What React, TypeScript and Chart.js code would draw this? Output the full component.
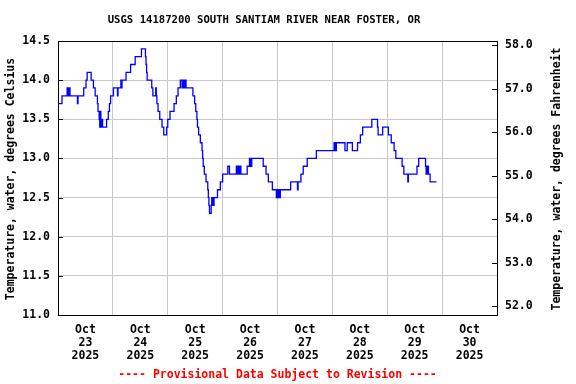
import { useEffect, useRef } from 'react';
import { Chart, registerables } from 'chart.js';

Chart.register(...registerables);

const TITLE = 'USGS 14187200 SOUTH SANTIAM RIVER NEAR FOSTER, OR';
const FOOTER = '---- Provisional Data Subject to Revision ----';
const LEFT_TITLE = 'Temperature, water, degrees Celsius';
const RIGHT_TITLE = 'Temperature, water, degrees Fahrenheit';

const MONTH = 'Oct';
const YEAR = '2025';
const DAYS = ['23', '24', '25', '26', '27', '28', '29', '30'];

const C_TICKS = [11.0, 11.5, 12.0, 12.5, 13.0, 13.5, 14.0, 14.5];
const F_TICKS = [52, 53, 54, 55, 56, 57, 58];

// hours since Oct 23 2025 00:00, and water temperature (deg C) from that time on
const HOURS = [
  0, 1.75, 4.0, 4.25, 4.5, 4.75, 5.0, 5.25, 8.5, 8.75, 11.25, 12.25, 12.75, 14.5, 15.5, 16.25,
  17.25, 17.5, 18.0, 18.25, 18.5, 18.75, 19.0, 19.25, 19.5, 21.25, 22.0, 22.5, 23.0, 24.25,
  26.0, 26.25, 27.5, 27.75, 28.0, 29.75, 31.75, 33.75, 36.5, 38.25, 38.5, 38.75, 39.0, 41.0,
  41.5, 42.75, 43.0, 43.25, 43.75, 44.5, 45.5, 46.25, 47.5, 48.0, 49.0, 50.75, 51.75, 52.5,
  53.5, 54.25, 54.5, 54.75, 55.0, 55.5, 55.75, 56.0, 59.0, 59.75, 60.25, 60.75, 61.0, 61.5,
  62.25, 63.0, 63.25, 63.5, 64.0, 64.75, 65.5, 65.75, 66.0, 66.25, 67.0, 67.25, 67.5, 67.75,
  68.0, 68.25, 69.75, 71.0, 72.0, 74.25, 75.0, 78.0, 78.25, 78.5, 78.75, 79.25, 79.5, 79.75,
  80.0, 82.75, 83.75, 84.0, 84.25, 84.5, 84.75, 89.75, 91.0, 92.0, 93.75, 95.5, 95.75, 96.0,
  96.25, 96.5, 96.75, 97.0, 97.25, 101.75, 104.75, 105.0, 106.25, 107.25, 109.0, 113.0,
  120.75, 121.0, 121.25, 121.5, 121.75, 125.5, 126.5, 128.75, 131.0, 132.25, 133.25, 137.25,
  139.75, 140.0, 142.0, 144.5, 145.75, 147.0, 147.75, 150.5, 151.25, 153.0, 153.25, 157.0,
  157.75, 160.75, 161.0, 161.25, 161.5, 161.75, 162.0, 162.75, 165.5,
];
const TEMPS_C = [
  13.7, 13.8, 13.9, 13.8, 13.9, 13.8, 13.9, 13.8, 13.7, 13.8, 13.9, 14.0, 14.1, 14.0, 13.9, 13.8,
  13.7, 13.6, 13.5, 13.4, 13.6, 13.5, 13.4, 13.5, 13.4, 13.5, 13.6, 13.7, 13.8, 13.9,
  13.8, 13.9, 14.0, 13.9, 14.0, 14.1, 14.2, 14.3, 14.4, 14.3, 14.2, 14.1, 14.0, 13.9,
  13.8, 13.9, 13.8, 13.7, 13.6, 13.5, 13.4, 13.3, 13.4, 13.5, 13.6, 13.7, 13.8, 13.9,
  14.0, 13.9, 14.0, 13.9, 14.0, 13.9, 14.0, 13.9, 13.8, 13.7, 13.6, 13.5, 13.4, 13.3,
  13.2, 13.1, 13.0, 12.9, 12.8, 12.7, 12.6, 12.5, 12.4, 12.3, 12.4, 12.5, 12.4, 12.5,
  12.4, 12.5, 12.6, 12.7, 12.8, 12.9, 12.8, 12.9, 12.8, 12.9, 12.8, 12.9, 12.8, 12.9,
  12.8, 12.9, 13.0, 12.9, 13.0, 12.9, 13.0, 12.9, 12.8, 12.7, 12.6, 12.5, 12.6, 12.5,
  12.6, 12.5, 12.6, 12.5, 12.6, 12.7, 12.6, 12.7, 12.8, 12.9, 13.0, 13.1,
  13.2, 13.1, 13.2, 13.1, 13.2, 13.1, 13.2, 13.1, 13.2, 13.3, 13.4, 13.5,
  13.4, 13.3, 13.4, 13.3, 13.2, 13.1, 13.0, 12.9, 12.8, 12.7, 12.8, 12.9,
  13.0, 12.9, 12.8, 12.9, 12.8, 12.9, 12.8, 12.7, 12.7,
];

const C_MIN = 11.0;
const C_MAX = 14.5;
const F_MIN = 51.8;
const F_MAX = 58.1;
const X_MAX = 192;

const FONT_FAMILY = '"DejaVu Sans Mono", "Liberation Mono", monospace';
const GRID = '#c8c8c8';

const decorations = {
  id: 'decorations',
  afterDraw(chart: any) {
    const ctx = chart.ctx as CanvasRenderingContext2D;
    const area = chart.chartArea;
    const yC = chart.scales.y;
    const yF = chart.scales.yF;
    ctx.save();
    ctx.strokeStyle = '#000';
    ctx.lineWidth = 1;
    ctx.beginPath();
    ctx.moveTo(area.left, Math.round(area.top) + 0.5);
    ctx.lineTo(area.right, Math.round(area.top) + 0.5);
    ctx.stroke();
    ctx.beginPath();
    C_TICKS.forEach((v) => {
      const y = Math.round(yC.getPixelForValue(v)) + 0.5;
      ctx.moveTo(area.left, y);
      ctx.lineTo(area.left + 5, y);
    });
    F_TICKS.forEach((v) => {
      const y = Math.round(yF.getPixelForValue(v)) + 0.5;
      ctx.moveTo(area.right, y);
      ctx.lineTo(area.right - 5, y);
    });
    ctx.stroke();

    ctx.fillStyle = '#000';
    ctx.textAlign = 'center';
    ctx.textBaseline = 'middle';
    ctx.font = `bold 10.6px ${FONT_FAMILY}`;
    ctx.fillText(TITLE, 264, 20);

    ctx.font = `bold 11.5px ${FONT_FAMILY}`;
    ctx.fillStyle = '#ff0000';
    ctx.fillText(FOOTER, (area.left + area.right) / 2, 375);

    ctx.fillStyle = '#000';
    const midY = (area.top + area.bottom) / 2 + 1;
    ctx.save();
    ctx.translate(11, midY);
    ctx.rotate(-Math.PI / 2);
    ctx.fillText(LEFT_TITLE, 0, 0);
    ctx.restore();
    ctx.save();
    ctx.translate(557, midY);
    ctx.rotate(-Math.PI / 2);
    ctx.fillText(RIGHT_TITLE, 0, 0);
    ctx.restore();
    ctx.restore();
  },
};

export default function App() {
  const ref = useRef<HTMLCanvasElement | null>(null);

  useEffect(() => {
    if (!ref.current) return;
    const tickFont = { family: FONT_FAMILY, size: 11.5, weight: 'bold' as const, lineHeight: 1.1 };
    const chart = new Chart(ref.current, {
      type: 'line',
      data: {
        datasets: [
          {
            data: HOURS.map((h, i) => ({ x: h, y: TEMPS_C[i] })),
            borderColor: '#0000ff',
            borderWidth: 1.3,
            pointRadius: 0,
            stepped: 'before',
            fill: false,
            yAxisID: 'y',
            xAxisID: 'x',
          },
        ],
      },
      options: {
        animation: false,
        responsive: false,
        maintainAspectRatio: false,
        layout: { padding: { top: 41, left: 0, right: 0, bottom: 0 } },
        plugins: { legend: { display: false }, tooltip: { enabled: false }, title: { display: false } },
        scales: {
          x: {
            type: 'linear',
            position: 'bottom',
            min: 0,
            max: X_MAX,
            afterBuildTicks: (s: any) => {
              const t = [];
              for (let v = 0; v <= X_MAX; v += 12) t.push({ value: v });
              s.ticks = t;
            },
            afterFit: (s: any) => {
              s.height = 69;
            },
            ticks: {
              autoSkip: false,
              maxRotation: 0,
              minRotation: 0,
              padding: 9,
              color: '#000',
              font: tickFont,
              callback: (v: any) => {
                const n = Number(v);
                if (n % 24 === 12) {
                  const d = DAYS[(n - 12) / 24];
                  return [MONTH, d, YEAR];
                }
                return '';
              },
            },
            grid: {
              drawTicks: false,
              color: (c: any) => (c.tick && c.tick.value % 24 === 0 ? GRID : 'rgba(0,0,0,0)'),
              lineWidth: 1,
            },
            border: { display: true, color: '#000', width: 1 },
          },
          y: {
            type: 'linear',
            position: 'left',
            min: C_MIN,
            max: C_MAX,
            afterBuildTicks: (s: any) => {
              s.ticks = C_TICKS.map((v) => ({ value: v }));
            },
            afterFit: (s: any) => {
              s.width = 58;
            },
            ticks: {
              padding: 8,
              color: '#000',
              font: tickFont,
              callback: (v: any) => Number(v).toFixed(1),
            },
            grid: {
              drawTicks: false,
              color: (c: any) => (c.tick && c.tick.value >= C_MAX ? 'rgba(0,0,0,0)' : GRID),
              lineWidth: 1,
            },
            border: { display: true, color: '#000', width: 1 },
          },
          yF: {
            type: 'linear',
            position: 'right',
            min: F_MIN,
            max: F_MAX,
            afterBuildTicks: (s: any) => {
              s.ticks = F_TICKS.map((v) => ({ value: v }));
            },
            afterFit: (s: any) => {
              s.width = 79;
            },
            ticks: {
              padding: 8,
              color: '#000',
              font: tickFont,
              callback: (v: any) => Number(v).toFixed(1),
            },
            grid: { display: false, drawTicks: false },
            border: { display: true, color: '#000', width: 1 },
          },
        },
      },
      plugins: [decorations],
    });
    return () => chart.destroy();
  }, []);

  return (
    <div style={{ position: 'absolute', left: 0, top: 0, width: 576, height: 384, background: '#fff' }}>
      <canvas ref={ref} width={576} height={384} style={{ display: 'block' }} />
    </div>
  );
}
